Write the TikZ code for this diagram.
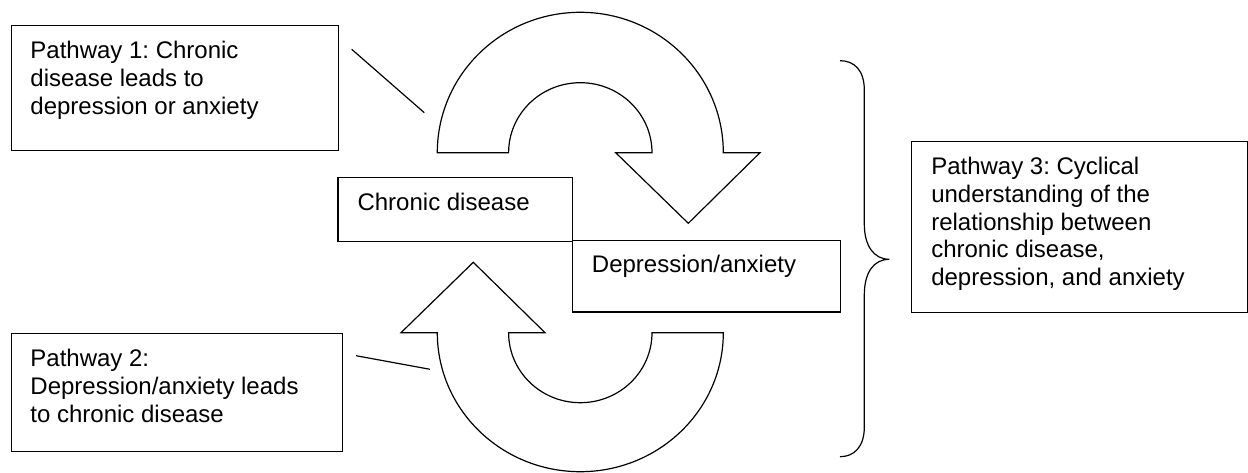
\documentclass[tikz,border=0pt]{standalone}
\usepackage{fontspec}
\setmainfont{Liberation Sans}
\usetikzlibrary{positioning}
\frenchspacing

\begin{document}
\begin{tikzpicture}[x=0.75pt,y=0.75pt,
    pbox/.style={draw, line width=0.9pt, anchor=north west, inner sep=0pt},
    ptext/.style={align=left, inner sep=0pt, font=\fontsize{18}{20.7}\selectfont},
    turn/.style={draw, line width=0.9pt, line join=miter},
    link/.style={draw, line width=0.9pt}]
\useasboundingbox (0,0) rectangle (1248,-473);

% boxes
\node[pbox, minimum width=245.1pt, minimum height=93.5pt] (p1) at (10.7,-25.3) {};
\node[pbox, minimum width=248.3pt, minimum height=88pt] (p2) at (10.7,-333.3) {};
\node[pbox, minimum width=251.8pt, minimum height=128.3pt] (p3) at (911,-140.7) {};
\node[pbox, minimum width=175.8pt, minimum height=47.9pt] (cd) at (337.3,-176.7) {};
\node[pbox, minimum width=201.2pt, minimum height=53.6pt] (da) at (571.7,-240) {};

% texts
\node[ptext, below right=12pt and 14.6pt of p1.north west] (p1t)
  {Pathway 1: Chronic\\disease leads to\\depression or anxiety};
\node[ptext, below right=12pt and 14.6pt of p2.north west] (p2t)
  {Pathway 2:\\Depression/anxiety leads\\to chronic disease};
\node[ptext, below right=12.4pt and 15pt of p3.north west] (p3t)
  {Pathway 3: Cyclical\\understanding of the\\relationship between\\chronic disease,\\depression, and anxiety};
\node[ptext, below right=12pt and 15pt of cd.north west] (cdt) {Chronic disease};
\node[ptext, below right=11.5pt and 15pt of da.north west] (dat) {Depression/anxiety};

% U-turn arrows
\coordinate (topc) at (580.3,-152.7);
\coordinate (botc) at (580.3,-332.7);
\draw[turn] (437.3,-152.7) arc[start angle=180, end angle=0, x radius=143, y radius=140.4]
  -- (760,-152.7) -- (688.3,-223.3) -- (615.7,-152.7) -- (652,-152.7)
  arc[start angle=0, end angle=180, x radius=71.7, y radius=70] -- cycle;
\draw[turn] (723.3,-332.7) arc[start angle=0, end angle=-180, x radius=143, y radius=139]
  -- (401,-332.7) -- (473.3,-262.3) -- (545,-332.7) -- (508.6,-332.7)
  arc[start angle=180, end angle=360, x radius=71.7, y radius=70] -- cycle;

% pointer lines
\coordinate (l1a) at (351.7,-49.3);
\coordinate (l1b) at (424.3,-112.7);
\coordinate (l2a) at (356,-355.7);
\coordinate (l2b) at (430,-369.3);
\draw[link] (l1a) -- (l1b);
\draw[link] (l2a) -- (l2b);

% brace
\coordinate (brtop) at (840,-60.7);
\coordinate (brtip) at (889.3,-259.3);
\coordinate (brbot) at (840,-456.7);
\draw[link] (brtop) .. controls (854,-60.7) and (864.3,-70) .. (864.3,-90)
  -- (864.3,-224) .. controls (864.3,-246) and (874,-259.3) .. (brtip)
  .. controls (874,-259.3) and (864.3,-272) .. (864.3,-295)
  -- (864.3,-427) .. controls (864.3,-447) and (854,-456.7) .. (brbot);
\end{tikzpicture}
\end{document}
